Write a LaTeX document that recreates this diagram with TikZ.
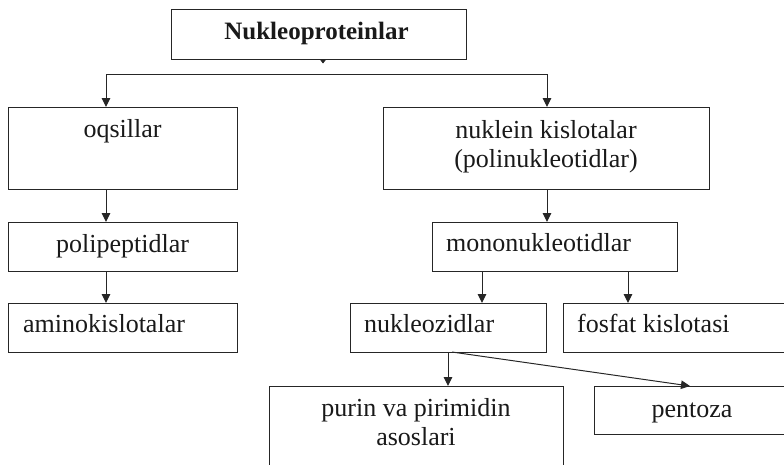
\documentclass[tikz,border=0pt]{standalone}
\usepackage{fontspec}
\setmainfont{Liberation Serif}
\usetikzlibrary{arrows.meta}
\begin{document}
\begin{tikzpicture}[x=1pt,y=-1pt,
 box/.style={draw=black!85, line width=1pt, fill=white, rectangle, inner sep=0pt, outer sep=0pt},
 txt/.style={inner sep=0pt, font=\fontsize{26}{29}\selectfont, text=black!90},
 arr/.style={draw=black!85, line width=1pt, -{Triangle[length=9pt,width=8.5pt]}},
 tip/.style={draw=black!85, line width=0.6pt, -{Triangle[length=4pt,width=6pt]}},
 ln/.style={draw=black!85, line width=1pt}]
\useasboundingbox (0,0) rectangle (784,464);
\clip (0,0) rectangle (784,464);
% boxes
\node[box, minimum width=295pt, minimum height=50pt] (top) at (318.5,34) {};
\node[box, minimum width=229pt, minimum height=82pt] (oq) at (122.5,148) {};
\node[box, minimum width=326pt, minimum height=82pt] (nk) at (546,148) {};
\node[box, minimum width=229pt, minimum height=49pt] (pp) at (122.5,246.5) {};
\node[box, minimum width=229pt, minimum height=49pt] (am) at (122.5,327.5) {};
\node[box, minimum width=245pt, minimum height=49pt] (mono) at (554.5,246.5) {};
\node[box, minimum width=196pt, minimum height=49pt] (nz) at (448,327.5) {};
\node[box, minimum width=227pt, minimum height=49pt] (fos) at (676.5,327.5) {};
\node[box, minimum width=294pt, minimum height=94pt] (pur) at (416,433) {};
\node[box, minimum width=196pt, minimum height=48pt] (pen) at (692,410) {};
% texts
\node[txt, anchor=base, font=\fontsize{25}{29}\selectfont\bfseries] (ttop) at (316.5,39) {Nukleoproteinlar};
\node[txt, anchor=base] (toq) at (122.5,137) {oqsillar};
\node[txt, anchor=center, align=center] (tnk) at (546,146.5) {nuklein kislotalar\\(polinukleotidlar)};
\node[txt, anchor=base] (tpp) at (122.5,252) {polipeptidlar};
\node[txt, anchor=base west] (tam) at (23,332) {aminokislotalar};
\node[txt, anchor=base west] (tmono) at (446,251) {mononukleotidlar};
\node[txt, anchor=base west] (tnz) at (364,332) {nukleozidlar};
\node[txt, anchor=base west] (tfos) at (577,332) {fosfat kislotasi};
\node[txt, anchor=center, align=center] (tpur) at (416,422) {purin va pirimidin\\asoslari};
\node[txt, anchor=base] (tpen) at (692,417) {pentoza};
% connectors
\draw[tip] (323,0 |- top.south) -- ++(0,4.5);
\coordinate (jl) at (106,74);
\coordinate (jr) at (547,74);
\draw[ln] (jl) -- (jr);
\draw[arr] (jl) -- (jl |- oq.north);
\draw[arr] (jr) -- (jr |- nk.north);
\draw[arr] (106,0 |- oq.south) -- (106,0 |- pp.north);
\draw[arr] (106,0 |- pp.south) -- (106,0 |- am.north);
\draw[arr] (547,0 |- nk.south) -- (547,0 |- mono.north);
\draw[arr] (482,0 |- mono.south) -- (482,0 |- nz.north);
\draw[arr] (628,0 |- mono.south) -- (628,0 |- fos.north);
\draw[arr] (448,0 |- nz.south) -- (448,0 |- pur.north);
\draw[arr] (nz.south -| 452,0) -- (690,0 |- pen.north);
\end{tikzpicture}
\end{document}
